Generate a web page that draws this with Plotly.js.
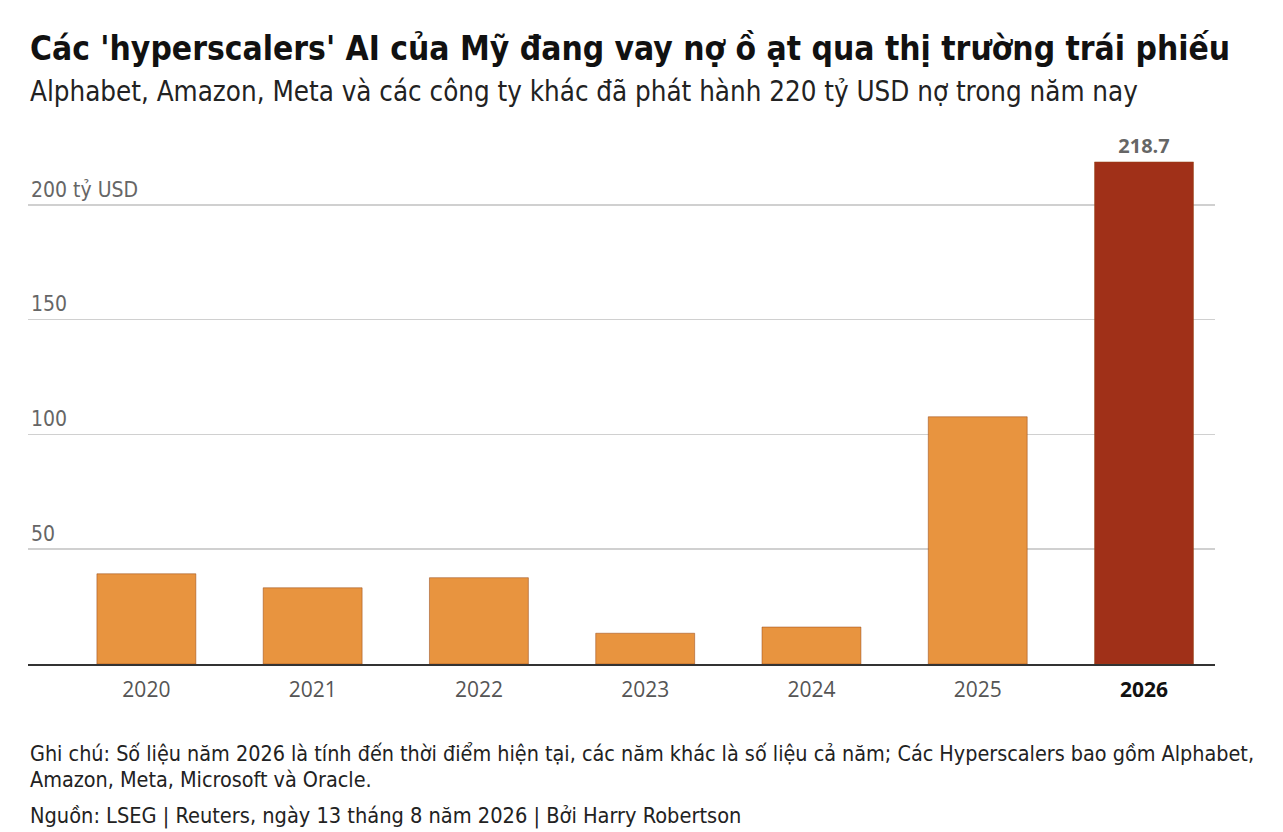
<!DOCTYPE html>
<html>
<head>
<meta charset="utf-8">
<script src="https://cdn.plot.ly/plotly-3.0.1.min.js"></script>
<style>
  html, body { margin: 0; padding: 0; background: #fff; }
  #chart { width: 1283px; height: 832px; }
</style>
</head>
<body>
<div id="chart"></div>
<script>
// data
var years = ['2020', '2021', '2022', '2023', '2024', '2025', '2026'];
var debtIssued = [39.3, 33.2, 37.6, 13.4, 16.1, 107.7, 218.7];
var barLabels = ['', '', '', '', '', '', '<b>218.7</b>'];
var barColours = ['#E8943F', '#E8943F', '#E8943F', '#E8943F', '#E8943F', '#E8943F', '#A03018'];
var yTickVals = [50, 100, 150, 200];
var yTickText = ['50', '100', '150', '200 tỷ USD'];
var xTickText = ['2020', '2021', '2022', '2023', '2024', '2025', '<b><span style="color:#111">2026</span></b>'];

var narrow = '"Liberation Sans Narrow", "DejaVu Sans Condensed", sans-serif';

var trace = {
    type: 'bar',
    x: years,
    y: debtIssued,
    text: barLabels,
    texttemplate: '%{text}',
    textposition: 'outside',
    constraintext: 'none',
    cliponaxis: false,
    textfont: { family: '"Open Sans", sans-serif', size: 20, color: '#666' },
    marker: {
        color: barColours,
        line: { color: 'rgba(150,70,20,0.5)', width: 1 }
    },
    hoverinfo: 'skip',
    showlegend: false
};

// pixel row -> paper y (plot spans rows 159..664)
function py(row) { return (664 - row) / 505; }

var layout = {
    width: 1283,
    height: 832,
    paper_bgcolor: '#fff',
    plot_bgcolor: '#fff',
    margin: { l: 28, r: 68, t: 159, b: 168, autoexpand: false },
    bargap: 0.405,
    xaxis: {
        type: 'category',
        range: [-0.712, 6.427],
        tickvals: years,
        ticktext: xTickText,
        tickfont: { family: '"Open Sans", sans-serif', size: 21, color: '#555' },
        showgrid: false,
        showline: true,
        linecolor: '#333',
        linewidth: 2,
        ticks: '',
        ticklabelstandoff: 6,
        fixedrange: true
    },
    yaxis: {
        range: [0, 220],
        tickvals: yTickVals,
        ticktext: yTickText,
        ticklabelposition: 'inside top',
        tickfont: { family: narrow, size: 21, color: '#666' },
        ticklabelshift: -1,
        showgrid: true,
        gridcolor: '#d0d0d0',
        gridwidth: 1.5,
        zeroline: false,
        showline: false,
        ticks: '',
        fixedrange: true
    },
    annotations: [
        {
            text: '<b>Các \'hyperscalers\' AI của Mỹ đang vay nợ ồ ạt qua thị trường trái phiếu</b>',
            xref: 'paper', yref: 'paper', x: 0, y: py(48),
            xanchor: 'left', yanchor: 'middle', showarrow: false,
            font: { family: narrow, size: 33.3, color: '#111' }
        },
        {
            text: 'Alphabet, Amazon, Meta và các công ty khác đã phát hành 220 tỷ USD nợ trong năm nay',
            xref: 'paper', yref: 'paper', x: 0, y: py(91),
            xanchor: 'left', yanchor: 'middle', showarrow: false,
            font: { family: narrow, size: 27.5, color: '#222' }
        },
        {
            text: 'Ghi chú: Số liệu năm 2026 là tính đến thời điểm hiện tại, các năm khác là số liệu cả năm; Các Hyperscalers bao gồm Alphabet,',
            xref: 'paper', yref: 'paper', x: 0, y: py(753),
            xanchor: 'left', yanchor: 'middle', showarrow: false,
            font: { family: narrow, size: 21.4, color: '#222' }
        },
        {
            text: 'Amazon, Meta, Microsoft và Oracle.',
            xref: 'paper', yref: 'paper', x: 0, y: py(779),
            xanchor: 'left', yanchor: 'middle', showarrow: false,
            font: { family: narrow, size: 21.4, color: '#222' }
        },
        {
            text: 'Nguồn: LSEG | Reuters, ngày 13 tháng 8 năm 2026 | Bởi Harry Robertson',
            xref: 'paper', yref: 'paper', x: 0, y: py(816),
            xanchor: 'left', yanchor: 'middle', showarrow: false,
            font: { family: narrow, size: 21.6, color: '#222' }
        }
    ]
};

Plotly.newPlot('chart', [trace], layout, { displayModeBar: false, staticPlot: true });
</script>
</body>
</html>
